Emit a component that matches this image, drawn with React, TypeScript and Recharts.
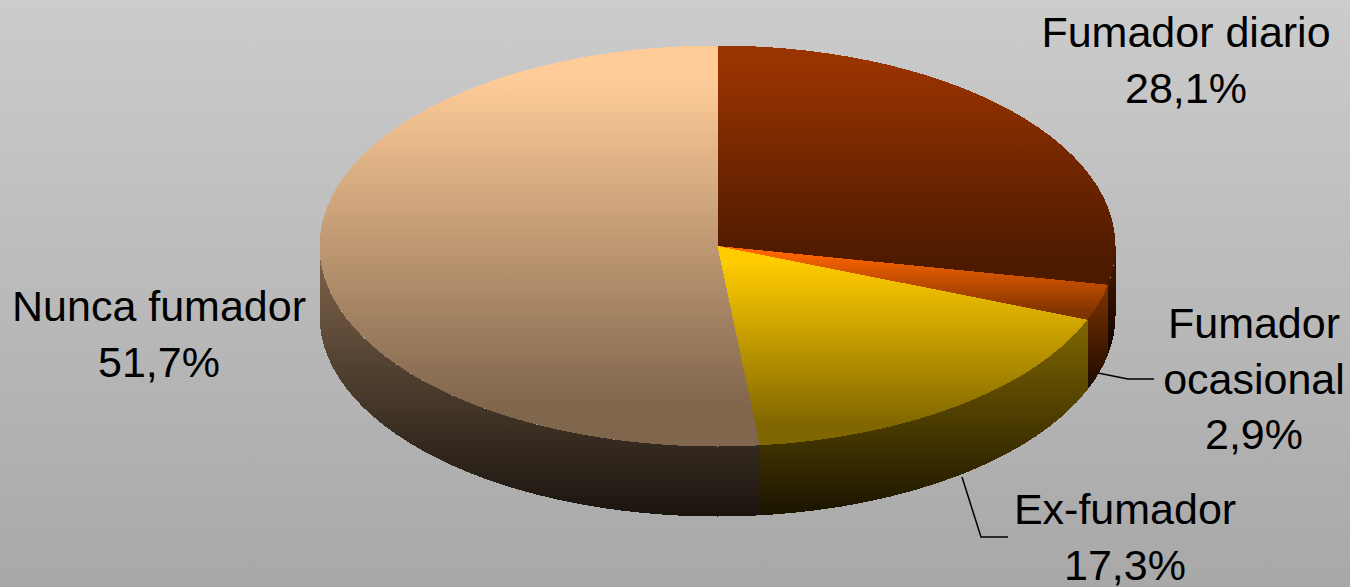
import React from "react";
import { PieChart, Pie } from "recharts";

const categories = ["Fumador diario", "Fumador ocasional", "Ex-fumador", "Nunca fumador"];
const values = [28.1, 2.9, 17.3, 51.7];
const colors = ["#993300", "#FF6600", "#FFCC00", "#FFCC99"];
const valueLabels = ["28,1%", "2,9%", "17,3%", "51,7%"];
const labelLines = [["Fumador diario"], ["Fumador", "ocasional"], ["Ex-fumador"], ["Nunca fumador"]];
const labelCenterX = [1186, 1254, 1125, 159];
const labelFirstBaseline = [47, 338, 524, 321];
const labelLineHeight = 55.5;
const leaders: (string | null)[] = [null, "1098,373 1128,379 1154,379", "962,477 981,537 1008,537", null];

const data = categories.map((name, i) => ({ name, value: values[i], color: colors[i] }));

const W = 1350;
const H = 587;
const CX = 717.5;
const CY = 246;
const RX = 398;
const TILT = 200.5 / 398;
const DEPTH = 70;

const shade = (hex: string, f: number) => {
  const n = parseInt(hex.slice(1), 16);
  const c = [(n >> 16) & 255, (n >> 8) & 255, n & 255].map((v) => Math.round(v * f));
  return `rgb(${c[0]},${c[1]},${c[2]})`;
};

function Slice3D(props: any) {
  const { cx, cy, outerRadius, startAngle, endAngle, payload, index } = props;
  const color = payload?.color ?? props.color ?? props.fill;
  const rx = outerRadius;
  const ry = outerRadius * TILT;
  const pt = (deg: number, dy = 0): [number, number] => {
    const a = (deg * Math.PI) / 180;
    return [cx + rx * Math.cos(a), cy - ry * Math.sin(a) + dy];
  };
  const f = (p: [number, number]) => `${p[0].toFixed(2)} ${p[1].toFixed(2)}`;
  const arcYs = (a0: number, a1: number, dy = 0) => {
    const ys: number[] = [];
    for (let k = 0; k <= 120; k++) ys.push(pt(a0 + ((a1 - a0) * k) / 120, dy)[1]);
    return ys;
  };

  // top face
  const large = Math.abs(endAngle - startAngle) > 180 ? 1 : 0;
  const top = `M ${cx} ${cy} L ${f(pt(startAngle))} A ${rx} ${ry} 0 ${large} 1 ${f(pt(endAngle))} Z`;
  const topYs = [cy, ...arcYs(startAngle, endAngle)];
  const topMin = Math.min(...topYs);
  const topMax = Math.max(...topYs);

  // visible wall: lower half of the ellipse (angles 0 to -180 in chart degrees)
  const wallStart = Math.min(startAngle, 0);
  const wallEnd = Math.max(endAngle, -180);
  const hasWall = wallStart > wallEnd;
  let wall = "";
  let wallMin = 0;
  let wallMax = 0;
  if (hasWall) {
    wall =
      `M ${f(pt(wallStart))} A ${rx} ${ry} 0 0 1 ${f(pt(wallEnd))} ` +
      `L ${f(pt(wallEnd, DEPTH))} A ${rx} ${ry} 0 0 0 ${f(pt(wallStart, DEPTH))} Z`;
    const ys = [...arcYs(wallStart, wallEnd), ...arcYs(wallStart, wallEnd, DEPTH)];
    wallMin = Math.min(...ys);
    wallMax = Math.max(...ys);
  }
  const topId = `top-${index}`;
  const wallId = `wall-${index}`;
  return (
    <g>
      <defs>
        <linearGradient id={topId} gradientUnits="userSpaceOnUse" x1="0" x2="0" y1={topMin} y2={topMax}>
          <stop offset="0.08" stopColor={shade(color, 1)} />
          <stop offset="0.9" stopColor={shade(color, 0.5)} />
        </linearGradient>
        <linearGradient id={wallId} gradientUnits="userSpaceOnUse" x1="0" x2="0" y1={wallMin} y2={wallMax}>
          <stop offset="0" stopColor={shade(color, 0.5)} />
          <stop offset="1" stopColor={shade(color, 0.1)} />
        </linearGradient>
      </defs>
      {hasWall && <path d={wall} fill={`url(#${wallId})`} stroke="none" shapeRendering="crispEdges" />}
      <path d={top} fill={`url(#${topId})`} stroke="none" shapeRendering="crispEdges" />
    </g>
  );
}

function SliceLabel(props: any) {
  const i: number = props.index;
  const lines = [...labelLines[i], valueLabels[i]];
  const leader = leaders[i];
  return (
    <g>
      {leader && <polyline points={leader} fill="none" stroke="#000" strokeWidth={1.5} />}
      <text
        textAnchor="middle"
        fontFamily="'Liberation Sans', Arial, sans-serif"
        fontSize={43}
        fill="#000"
      >
        {lines.map((t, k) => (
          <tspan key={k} x={labelCenterX[i]} y={labelFirstBaseline[i] + k * labelLineHeight}>
            {t}
          </tspan>
        ))}
      </text>
    </g>
  );
}

export default function App() {
  return (
    <div
      style={{
        position: "absolute",
        left: 0,
        top: 0,
        width: W,
        height: H,
        overflow: "hidden",
        background: "linear-gradient(180deg, #cccccc 0%, #a8a8a8 100%)",
      }}
    >
      <PieChart width={W} height={H} margin={{ top: 0, right: 0, bottom: 0, left: 0 }}>
        <Pie
          data={data}
          dataKey="value"
          nameKey="name"
          cx={CX}
          cy={CY}
          innerRadius={0}
          outerRadius={RX}
          startAngle={90}
          endAngle={-270}
          stroke="none"
          isAnimationActive={false}
          shape={Slice3D}
          label={SliceLabel}
          labelLine={false}
        />
      </PieChart>
    </div>
  );
}
